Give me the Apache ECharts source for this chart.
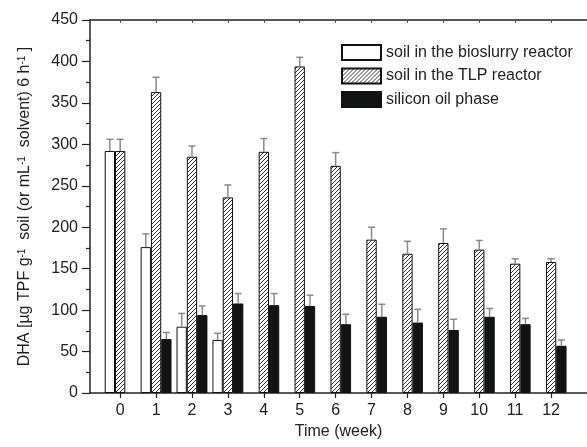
<!DOCTYPE html>
<html lang="en">
<head>
<meta charset="UTF-8">
<title>DHA</title>
<script src="https://cdn.jsdelivr.net/npm/echarts@6/dist/echarts.min.js"></script>
<style>
  html, body { margin: 0; padding: 0; background: #fff; }
  #chart { width: 587px; height: 447px; }
</style>
</head>
<body>
<div id="chart"></div>
<script>
var weeks = [0, 1, 2, 3, 4, 5, 6, 7, 8, 9, 10, 11, 12];
// bioslurry reactor soil only measured in weeks 0-3
var bioslurry    = [292, 176, 80, 64];
var bioslurryTop = [306, 192, 96, 72];
var tlp    = [292, 363, 285, 236, 291, 394, 274, 185, 168, 181, 173, 156, 158];
var tlpTop = [306, 381, 298, 251, 307, 405, 290, 200, 183, 198, 184, 162, 162];
var oil    = [null, 65, 94, 108, 106, 105, 83, 92, 85, 76, 92, 83, 57];
var oilTop = [null, 73, 105, 120, 120, 118, 95, 107, 101, 89, 102, 90, 64];
var yTicks = [0, 50, 100, 150, 200, 250, 300, 350, 400, 450];

var names = ['soil in the bioslurry reactor', 'soil in the TLP reactor', 'silicon oil phase'];
var barWidth = 10.3;
var font = 'Liberation Sans, Arial, sans-serif';
var textColor = '#222';

function hatchPattern() {
    var c = document.createElement('canvas');
    c.width = 4; c.height = 4;
    var g = c.getContext('2d');
    g.fillStyle = '#fff';
    g.fillRect(0, 0, 4, 4);
    g.strokeStyle = '#333';
    g.lineWidth = 1;
    g.beginPath();
    g.moveTo(0, 4); g.lineTo(4, 0);
    g.moveTo(-1, 1); g.lineTo(1, -1);
    g.moveTo(3, 5); g.lineTo(5, 3);
    g.stroke();
    return { image: c, repeat: 'repeat' };
}

function pairs(vals) {
    var out = [];
    vals.forEach(function (v, i) {
        if (v != null) out.push([weeks[i], v]);
    });
    return out;
}
function errPairs(vals, tops) {
    var out = [];
    vals.forEach(function (v, i) {
        if (v != null) out.push([weeks[i], v, tops[i]]);
    });
    return out;
}

function errorSeries(idx, vals, tops) {
    return {
        name: 'err' + idx,
        type: 'custom',
        z: 5,
        encode: { x: 0, y: [1, 2] },
        data: errPairs(vals, tops),
        renderItem: function (params, api) {
            var p0 = api.coord([api.value(0), api.value(1)]);
            var p1 = api.coord([api.value(0), api.value(2)]);
            var x = p0[0] + (idx - 1) * barWidth;
            var st = { stroke: '#8a8a8a', lineWidth: 1.5 };
            return {
                type: 'group',
                children: [
                    { type: 'line', shape: { x1: x, y1: p0[1], x2: x, y2: p1[1] }, style: st },
                    { type: 'line', shape: { x1: x - 3.5, y1: p1[1], x2: x + 3.5, y2: p1[1] }, style: st }
                ]
            };
        }
    };
}

var chart = echarts.init(document.getElementById('chart'), null, { renderer: 'canvas' });

var option = {
    backgroundColor: '#fff',
    animation: false,
    textStyle: { fontFamily: font },
    grid: { left: 90, top: 20, width: 512, height: 373 },
    legend: {
        data: names,
        orient: 'vertical',
        left: 341,
        top: 44,
        padding: 0,
        icon: 'rect',
        itemWidth: 39,
        itemHeight: 15,
        itemGap: 6.5,
        textStyle: { fontSize: 16, lineHeight: 15, color: textColor, fontFamily: font },
        selectedMode: false
    },
    xAxis: [{
        type: 'value',
        min: -0.84,
        max: 13,
        name: 'Time (week)',
        nameLocation: 'middle',
        nameGap: 30,
        nameTextStyle: { fontSize: 16, color: textColor, fontFamily: font },
        axisLine: { onZero: false, lineStyle: { color: '#222', width: 1.5 } },
        axisTick: { show: true, length: 5, customValues: weeks, lineStyle: { color: '#222', width: 1.2 } },
        axisLabel: { customValues: weeks, fontSize: 16, color: textColor, margin: 10 },
        splitLine: { show: false }
    }, {
        type: 'value',
        position: 'top',
        min: -0.84,
        max: 13,
        axisLine: { show: true, onZero: false, lineStyle: { color: '#222', width: 1.5 } },
        axisTick: { show: true, inside: true, length: 3, customValues: weeks, lineStyle: { color: '#555' } },
        axisLabel: { show: false },
        splitLine: { show: false }
    }],
    yAxis: {
        type: 'value',
        min: yTicks[0],
        max: yTicks[yTicks.length - 1],
        interval: 50,
        name: 'DHA [µg TPF g{sup|-1}  soil (or mL{sup|-1}  solvent) 6 h{sup|-1} ]',
        nameLocation: 'middle',
        nameGap: 57,
        nameTextStyle: {
            fontSize: 16,
            color: textColor,
            fontFamily: font,
            rich: {
                sup: { fontSize: 10, verticalAlign: 'top', padding: [0, 0, 6, 0], color: textColor, fontFamily: font }
            }
        },
        axisLine: { show: true, onZero: false, lineStyle: { color: '#222', width: 1.5 } },
        axisTick: { show: true, length: 8, lineStyle: { color: '#222', width: 1.2 } },
        minorTick: { show: true, splitNumber: 2, length: 4, lineStyle: { color: '#222', width: 1.2 } },
        axisLabel: { fontSize: 16, color: textColor, margin: 12 },
        splitLine: { show: false }
    },
    series: [
        {
            name: names[0],
            type: 'bar',
            barWidth: barWidth,
            barGap: '0%',
            itemStyle: { color: '#fff', borderColor: '#111', borderWidth: 1 },
            data: pairs(bioslurry)
        },
        {
            name: names[1],
            type: 'bar',
            barWidth: barWidth,
            barGap: '0%',
            itemStyle: { color: hatchPattern(), borderColor: '#111', borderWidth: 1 },
            data: pairs(tlp)
        },
        {
            name: names[2],
            type: 'bar',
            barWidth: barWidth,
            barGap: '0%',
            itemStyle: { color: '#121413', borderColor: '#111', borderWidth: 1 },
            data: pairs(oil)
        },
        errorSeries(0, bioslurry, bioslurryTop),
        errorSeries(1, tlp, tlpTop),
        errorSeries(2, oil, oilTop)
    ]
};

chart.setOption(option);
</script>
</body>
</html>
